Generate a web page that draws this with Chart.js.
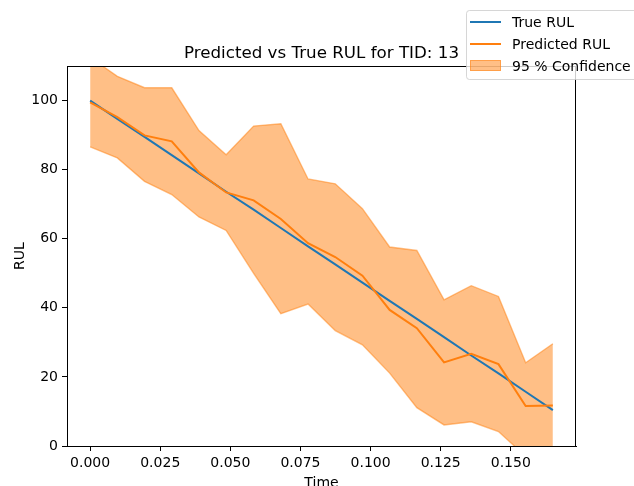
<!DOCTYPE html>
<html>
<head>
<meta charset="utf-8">
<script src="https://cdn.jsdelivr.net/npm/chart.js@4"></script>
<style>
  body { margin: 0; background: #fff; }
  canvas { display: block; }
</style>
</head>
<body>
<canvas id="rulChart" width="634" height="486"></canvas>
<script>
// values
const times = [0, 0.0097, 0.0194, 0.0291, 0.0388, 0.0485, 0.0583, 0.068, 0.0777,
               0.0874, 0.0971, 0.1068, 0.1165, 0.1262, 0.1359, 0.1456, 0.1553, 0.165];
const trueRul = [100, 94.7, 89.5, 84.2, 78.9, 73.6, 68.4, 63.1, 57.8,
                 52.6, 47.3, 42.0, 36.8, 31.5, 26.2, 21.0, 15.7, 10.4];
const predRul = [99.5, 95.2, 89.9, 88.2, 79.2, 73.4, 71.1, 65.7, 58.7,
                 54.7, 49.3, 39.4, 34.1, 24.2, 26.7, 23.7, 11.6, 11.7];
const upperCI = [112.5, 107.0, 103.7, 103.7, 91.3, 84.3, 92.6, 93.3, 77.3,
                 75.9, 68.7, 57.6, 56.6, 42.3, 46.4, 43.3, 24.1, 29.6];
const lowerCI = [86.6, 83.4, 76.6, 72.8, 66.3, 62.4, 50.0, 38.3, 41.1,
                 33.4, 29.3, 21.1, 11.1, 6.1, 7.0, 4.2, -3.0, -6.0];
const xTicks = [0, 0.025, 0.05, 0.075, 0.1, 0.125, 0.15];
const yTicks = [0, 20, 40, 60, 80, 100];

const BLUE = '#1f77b4';
const ORANGE = '#ff7f0e';
const BAND = 'rgba(255, 127, 14, 0.5)';
const FONT = "'DejaVu Sans', sans-serif";

Chart.defaults.font.family = FONT;
Chart.defaults.color = '#000';

const pts = (ys) => times.map((t, i) => ({ x: t, y: ys[i] }));

// title, axis labels, frame and legend (matplotlib look)
const decor = {
    id: 'decor',
    afterDraw(chart) {
        const c = chart.ctx;
        const a = chart.chartArea;
        c.save();
        c.strokeStyle = '#000';
        c.lineWidth = 1;
        c.strokeRect(a.left + 0.5, a.top + 0.5, a.right - a.left - 1, a.bottom - a.top);

        c.fillStyle = '#000';
        c.font = '16.7px ' + FONT;
        c.textAlign = 'center';
        c.textBaseline = 'alphabetic';
        c.fillText('Predicted vs True RUL for TID: 13', (a.left + a.right) / 2, 58);

        c.font = '14px ' + FONT;
        c.textBaseline = 'top';
        c.fillText('Time', (a.left + a.right) / 2, 476);

        c.save();
        c.translate(24, (a.top + a.bottom) / 2);
        c.rotate(-Math.PI / 2);
        c.textBaseline = 'alphabetic';
        c.fillText('RUL', 0, 0);
        c.restore();

        // legend box
        const bx = 466, by = 10, bw = 180, bh = 69;
        c.beginPath();
        c.roundRect(bx + 0.5, by + 0.5, bw, bh, 3);
        c.fillStyle = 'rgba(255,255,255,0.8)';
        c.fill();
        c.strokeStyle = 'rgba(204,204,204,0.8)';
        c.stroke();

        const entries = chart.data.datasets
            .filter(d => d.legendRank !== undefined)
            .sort((p, q) => p.legendRank - q.legendRank);
        c.font = '14px ' + FONT;
        c.textAlign = 'left';
        c.textBaseline = 'middle';
        entries.forEach((d, i) => {
            const y = 22 + i * 22;
            if (d.fill) {
                c.fillStyle = d.backgroundColor;
                c.fillRect(470, y - 6, 31, 11);
                c.strokeStyle = d.borderColor;
                c.lineWidth = 1;
                c.strokeRect(470.5, y - 5.5, 30, 10);
            } else {
                c.strokeStyle = d.borderColor;
                c.lineWidth = 2;
                c.beginPath();
                c.moveTo(470, y);
                c.lineTo(501, y);
                c.stroke();
            }
            c.fillStyle = '#000';
            c.fillText(d.label, 512, y + 1);
        });
        c.restore();
    }
};

new Chart(document.getElementById('rulChart'), {
    type: 'line',
    data: {
        datasets: [
            {
                label: 'lower',
                data: pts(lowerCI),
                borderColor: BAND,
                borderWidth: 1.4,
                pointRadius: 0,
                fill: false,
                order: 3
            },
            {
                label: '95 % Confidence',
                data: pts(upperCI),
                borderColor: BAND,
                backgroundColor: BAND,
                borderWidth: 1.4,
                pointRadius: 0,
                fill: '-1',
                order: 3,
                legendRank: 2
            },
            {
                label: 'True RUL',
                data: pts(trueRul),
                borderColor: BLUE,
                borderWidth: 2,
                pointRadius: 0,
                fill: false,
                order: 2,
                legendRank: 0
            },
            {
                label: 'Predicted RUL',
                data: pts(predRul),
                borderColor: ORANGE,
                borderWidth: 2,
                pointRadius: 0,
                fill: false,
                order: 1,
                legendRank: 1
            }
        ]
    },
    options: {
        responsive: false,
        animation: false,
        devicePixelRatio: 1,
        layout: { padding: { left: 0, right: 58, top: 66, bottom: 0 } },
        plugins: {
            legend: { display: false },
            title: { display: false },
            tooltip: { enabled: false },
            filler: { propagate: false }
        },
        scales: {
            x: {
                type: 'linear',
                min: -0.00825,
                max: 0.17325,
                afterBuildTicks: (s) => { s.ticks = xTicks.map(v => ({ value: v })); },
                afterFit: (s) => { s.height = 40; },
                grid: { drawOnChartArea: false, tickLength: 5, color: '#000', tickWidth: 1 },
                border: { color: '#000', width: 1 },
                ticks: {
                    padding: 4,
                    maxRotation: 0,
                    font: { size: 14 },
                    color: '#000',
                    callback: (v) => v.toFixed(3)
                }
            },
            y: {
                type: 'linear',
                min: 0,
                max: 110,
                afterBuildTicks: (s) => { s.ticks = yTicks.map(v => ({ value: v })); },
                afterFit: (s) => { s.width = 67; },
                grid: { drawOnChartArea: false, tickLength: 5, color: '#000', tickWidth: 1 },
                border: { color: '#000', width: 1 },
                ticks: {
                    padding: 4,
                    font: { size: 14 },
                    color: '#000'
                }
            }
        }
    },
    plugins: [decor]
});
</script>
</body>
</html>
